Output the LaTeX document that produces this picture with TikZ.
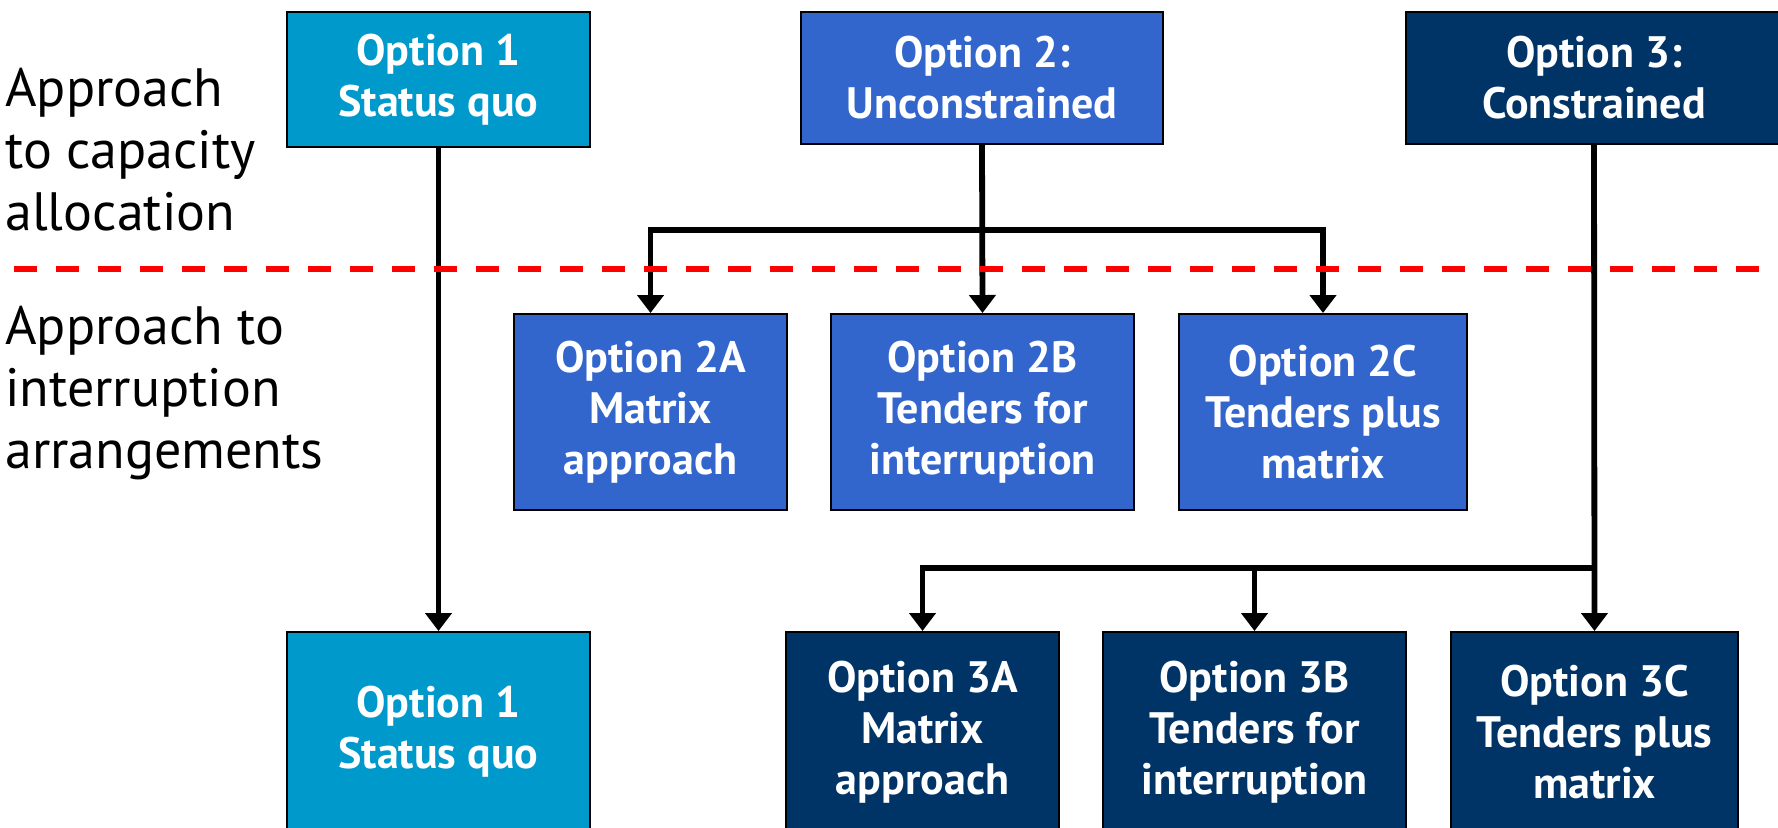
\documentclass[tikz,border=0pt]{standalone}
\usepackage{fontspec}
\setmainfont{PT Sans}
\usetikzlibrary{arrows.meta}
\definecolor{optA}{RGB}{0,153,204}
\definecolor{optB}{RGB}{51,102,204}
\definecolor{optC}{RGB}{0,51,102}
\tikzset{
  optbox/.style={draw=black, line width=1pt, text=white, align=center,
    inner sep=0pt, font=\bfseries\fontsize{22}{25.5}\selectfont},
  boxone/.style={optbox, fill=optA},
  boxtwo/.style={optbox, fill=optB},
  boxthree/.style={optbox, fill=optC},
  link/.style={line width=2.9pt, black, line join=miter},
  arr/.style={link, -{Triangle[width=13pt,length=9pt]}},
  sidelabel/.style={anchor=west, align=left, inner sep=0pt,
    font=\fontsize{27}{31}\selectfont},
  divider/.style={red, line width=2.6pt, dash pattern=on 11.5pt off 9.5pt}
}
\begin{document}
\begin{tikzpicture}[x=0.5pt, y=-0.5pt]
\useasboundingbox (0,0) rectangle (1778,827);
\begin{scope}
\clip (0,0) rectangle (1778,827);

% side labels
\node[sidelabel] (lcap) at (5,150) {Approach\\to capacity\\allocation};
\node[sidelabel] (lint) at (5,393) {Approach to\\interruption\\arrangements};

% capacity allocation options
\node[boxone, minimum width=151.5pt, minimum height=67.5pt] (o1) at (438.5,79.5) {Option 1\\Status quo};
\node[boxtwo, minimum width=181pt, minimum height=66pt] (o2) at (982,78) {Option 2:\\Unconstrained};
\node[boxthree, minimum width=188pt, minimum height=66pt] (o3) at (1594,78) {Option 3:\\Constrained};

% interruption options under option 2
\node[boxtwo, minimum width=136.5pt, minimum height=98pt] (o2a) at (650.5,412) {Option 2A\\Matrix\\approach};
\node[boxtwo, minimum width=151.5pt, minimum height=98pt] (o2b) at (982.5,412) {Option 2B\\Tenders for\\interruption};
\node[boxtwo, minimum width=144pt, minimum height=98pt] (o2c) at (1323,412) {Option 2C\\Tenders plus\\matrix};

% bottom row
\node[boxone, minimum width=151.5pt, minimum height=100pt] (o1b) at (438.5,732) {Option 1\\Status quo};
\node[boxthree, minimum width=136.5pt, minimum height=100pt] (o3a) at (922.5,732) {Option 3A\\Matrix\\approach};
\node[boxthree, minimum width=151.5pt, minimum height=100pt] (o3b) at (1254.5,732) {Option 3B\\Tenders for\\interruption};
\node[boxthree, minimum width=143.5pt, minimum height=100pt] (o3c) at (1594.5,732) {Option 3C\\Tenders plus\\matrix};

% connectors
\coordinate (j2) at (982,230);
\coordinate (j3) at (1594,568);
\draw[arr] (o1.south) -- (o1b.north);
\draw[arr] (o2.south) -- (o2b.north);
\draw[arr] (j2) -| (o2a.north);
\draw[arr] (j2) -| (o2c.north);
\draw[arr] (o3.south) -- (o3c.north);
\draw[arr] (j3) -| (o3a.north);
\draw[arr] (o3b.north |- j3) -- (o3b.north);

% boundary between the two levels
\draw[divider] (14,269) -- (1778,269);
\end{scope}
\end{tikzpicture}
\end{document}
